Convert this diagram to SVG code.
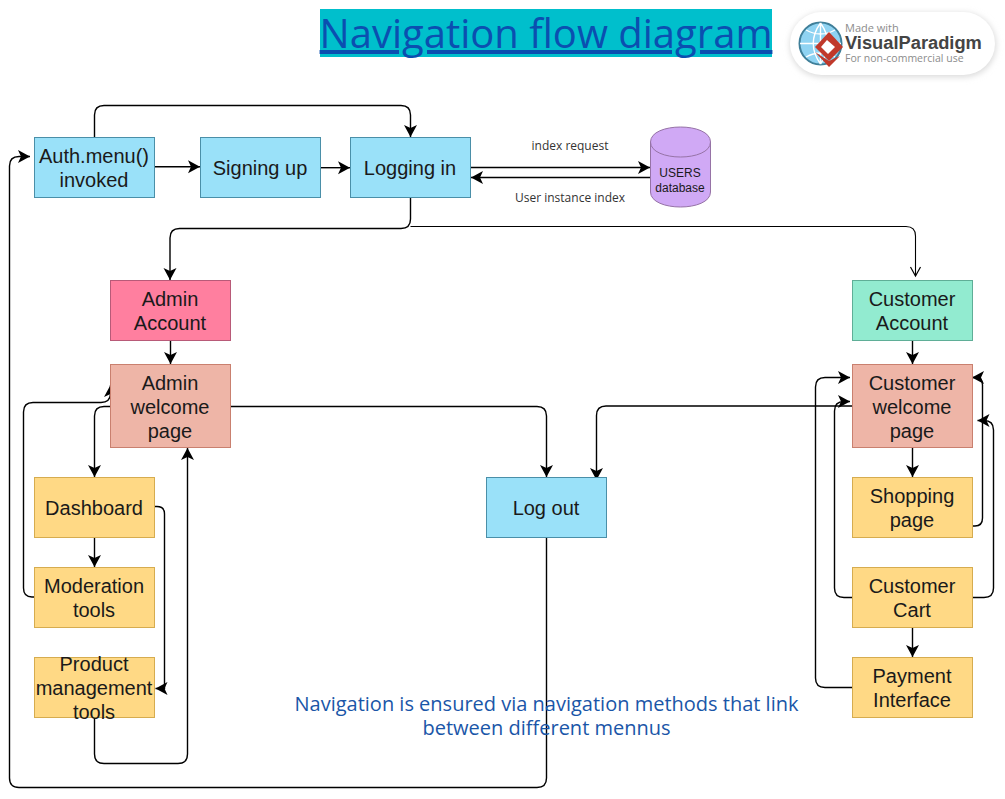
<svg xmlns="http://www.w3.org/2000/svg" width="1005" height="799" viewBox="0 0 1005 799">
<style>
text{font-family:"Liberation Sans",Arial,sans-serif;fill:#1a1a1a;text-anchor:middle}
.n text{font-size:20px}
.b{fill:#9ae1f9;stroke:#4a8fa8}
.p{fill:#ff7f9f;stroke:#b85a78}
.s{fill:#eeb5a7;stroke:#c9806f}
.y{fill:#ffd985;stroke:#d6ac4f}
.g{fill:#92ebd0;stroke:#5fae97}
.c path{fill:none;stroke:#000;stroke-width:1.4}
.lab{font-family:"Open Sans",sans-serif;font-size:12px;fill:#333}
.nav{font-family:"Open Sans",sans-serif;font-size:20px;fill:#1a56a8}
.lg{font-family:"Open Sans",sans-serif;text-anchor:start;fill:#8c8c8c;font-size:11px}
</style>
<defs>
<marker id="a" markerUnits="userSpaceOnUse" markerWidth="15" markerHeight="15" refX="12" refY="6.500" orient="auto" overflow="visible"><path d="M0 0L12 6.500L0 13L3 6.500Z" fill="#000"/></marker>
<marker id="o" markerUnits="userSpaceOnUse" markerWidth="14" markerHeight="14" refX="10" refY="5" orient="auto" overflow="visible"><path d="M1 0L10 5L1 10" fill="none" stroke="#000" stroke-width="1.2"/></marker>
<filter id="sh" x="-10%" y="-20%" width="120%" height="140%"><feGaussianBlur stdDeviation="3"/></filter>
</defs>

<g id="title">
<rect x="320" y="9" width="452" height="48" fill="#00bfcc"/>
<text x="546" y="48" font-size="40" style="font-family:'Open Sans',sans-serif;fill:#0b4fb0" text-decoration="underline">Navigation flow diagram</text>
</g>

<g id="logo">
<rect x="790" y="13" width="206" height="64" rx="32" fill="#d9d9d9" filter="url(#sh)"/>
<rect x="790" y="12" width="205" height="63" rx="31.500" fill="#fff"/>
<circle cx="820.500" cy="43.500" r="21" fill="#8fd3f2" stroke="#3f7f99" stroke-width="2"/>
<path d="M820.500 23V64M800 43.500H841M806 30Q820.500 38 835 30M806 57Q820.500 49 835 57M820.500 23Q806 43.500 820.500 64M820.500 23Q835 43.500 820.500 64" fill="none" stroke="#fff" stroke-width="1.400"/>
<path d="M829 32L843 47L829 61L815 47Z" fill="#c0392b"/>
<path d="M815 52L829 67L840 56L829 61Z" fill="#c0392b"/>
<path d="M827 40L835 47L828 54L821 47Z" fill="#fff"/>
<text class="lg" x="845" y="32" style="font-size:11px">Made with</text>
<text class="lg" x="845" y="49" style="font-family:'Liberation Sans',sans-serif;font-weight:bold;font-size:18.300px;fill:#444">VisualParadigm</text>
<text class="lg" x="845" y="62" style="font-size:10.500px">For non-commercial use</text>
</g>

<g id="connectors" class="c">
<path marker-end="url(#a)" d="M94.500 137V115Q94.500 105.500 104 105.500H401Q410.500 105.500 410.500 115V137"/>
<path marker-end="url(#a)" d="M155 166.700H200"/>
<path marker-end="url(#a)" d="M321 167.700H350"/>
<path marker-end="url(#a)" d="M410.500 198V219Q410.500 228.500 401 228.500H179.500Q170 228.500 170 238V280"/>
<path marker-end="url(#o)" style="stroke-width:1.100" d="M410.500 226.500H906Q915.500 226.500 915.500 236V276"/>
<path marker-end="url(#a)" d="M470 167.500H650"/>
<path marker-end="url(#a)" d="M650 177.500H471"/>
<path marker-end="url(#a)" d="M170.500 341V364"/>
<path marker-end="url(#a)" d="M110 406.500H104Q94.500 406.500 94.500 416V477"/>
<path marker-end="url(#a)" d="M94.500 538V567"/>
<path marker-end="url(#a)" d="M34 597H32Q23.500 597 23.500 588V412Q23.500 402.500 33 402.500H101Q110 402.500 110.500 394V385"/>
<path marker-end="url(#a)" d="M155 506.500H157Q164.500 506.500 164.500 514V688.500H155.500"/>
<path marker-end="url(#a)" d="M94.500 718V754Q94.500 763.500 104 763.500H178Q187.500 763.500 187.500 754V448"/>
<path marker-end="url(#a)" d="M546.500 538V778Q546.500 787.500 537 787.500H19Q9.500 787.500 9.500 778V166Q9.500 156.500 19 156.500H30"/>
<path marker-end="url(#a)" d="M231 406.500H537Q546.500 406.500 546.500 416V477"/>
<path marker-end="url(#a)" d="M852 406H606Q596.500 406 596.500 415.500V480"/>
<path marker-end="url(#a)" d="M912.500 341V364"/>
<path marker-end="url(#a)" d="M912.500 448V477"/>
<path marker-end="url(#a)" d="M912.500 628V657"/>
<path marker-end="url(#a)" d="M973 526H975Q982.500 526 982.500 518V385Q982.500 377.500 975 377.500H972"/>
<path marker-end="url(#a)" d="M973 597.500H984Q993.500 597.500 993.500 588V430Q993.500 420.500 984 420.500H977.500"/>
<path marker-end="url(#a)" d="M852 597.500H844Q834.500 597.500 834.500 588V411Q834.500 401.500 844 401.500H850"/>
<path marker-end="url(#a)" d="M852 687.500H825Q815.500 687.500 815.500 678V387Q815.500 377.500 825 377.500H850"/>
</g>

<g id="auth" class="n"><rect class="b" x="34.500" y="137.500" width="120" height="60"/><text x="94" y="163">Auth.menu()</text><text x="94" y="187">invoked</text></g>
<g id="signup" class="n"><rect class="b" x="200.500" y="137.500" width="120" height="60"/><text x="260" y="174.500">Signing up</text></g>
<g id="login" class="n"><rect class="b" x="350.500" y="137.500" width="120" height="60"/><text x="410" y="174.500">Logging in</text></g>
<g id="users">
<path d="M650.500 142V192C650.500 212 710.500 212 710.500 192V142C710.500 122 650.500 122 650.500 142Z" fill="#d0a9f5" stroke="#9673a6"/>
<path d="M650.500 142C650.500 162 710.500 162 710.500 142" fill="none" stroke="#9673a6"/>
<text x="680" y="177" style="font-size:12px">USERS</text><text x="680" y="192" style="font-size:12px">database</text>
</g>
<text class="lab" x="570" y="150">index request</text>
<text class="lab" x="570" y="202">User instance index</text>

<g id="admin-account" class="n"><rect class="p" x="110.500" y="280.500" width="120" height="60"/><text x="170" y="306">Admin</text><text x="170" y="330">Account</text></g>
<g id="admin-welcome" class="n"><rect class="s" x="110.500" y="364.500" width="120" height="83"/><text x="170" y="390">Admin</text><text x="170" y="414">welcome</text><text x="170" y="438">page</text></g>
<g id="dashboard" class="n"><rect class="y" x="34.500" y="477.500" width="120" height="60"/><text x="94" y="515">Dashboard</text></g>
<g id="moderation" class="n"><rect class="y" x="34.500" y="567.500" width="120" height="60"/><text x="94" y="593">Moderation</text><text x="94" y="617">tools</text></g>
<g id="product" class="n"><rect class="y" x="34.500" y="657.500" width="120" height="60"/><text x="94" y="671">Product<tspan x="94" dy="24">management</tspan><tspan x="94" dy="24">tools</tspan></text></g>
<g id="logout" class="n"><rect class="b" x="486.500" y="477.500" width="120" height="60"/><text x="546" y="515">Log out</text></g>
<g id="customer-account" class="n"><rect class="g" x="852.500" y="280.500" width="120" height="60"/><text x="912" y="306">Customer</text><text x="912" y="330">Account</text></g>
<g id="customer-welcome" class="n"><rect class="s" x="852.500" y="364.500" width="120" height="83"/><text x="912" y="390">Customer</text><text x="912" y="414">welcome</text><text x="912" y="438">page</text></g>
<g id="shopping" class="n"><rect class="y" x="852.500" y="477.500" width="120" height="60"/><text x="912" y="503">Shopping</text><text x="912" y="527">page</text></g>
<g id="cart" class="n"><rect class="y" x="852.500" y="567.500" width="120" height="60"/><text x="912" y="593">Customer</text><text x="912" y="617">Cart</text></g>
<g id="payment" class="n"><rect class="y" x="852.500" y="657.500" width="120" height="60"/><text x="912" y="683">Payment</text><text x="912" y="707">Interface</text></g>

<g id="note"><text class="nav" x="546.500" y="711">Navigation is ensured via navigation methods that link<tspan x="546.500" dy="24">between different mennus</tspan></text></g>
</svg>
